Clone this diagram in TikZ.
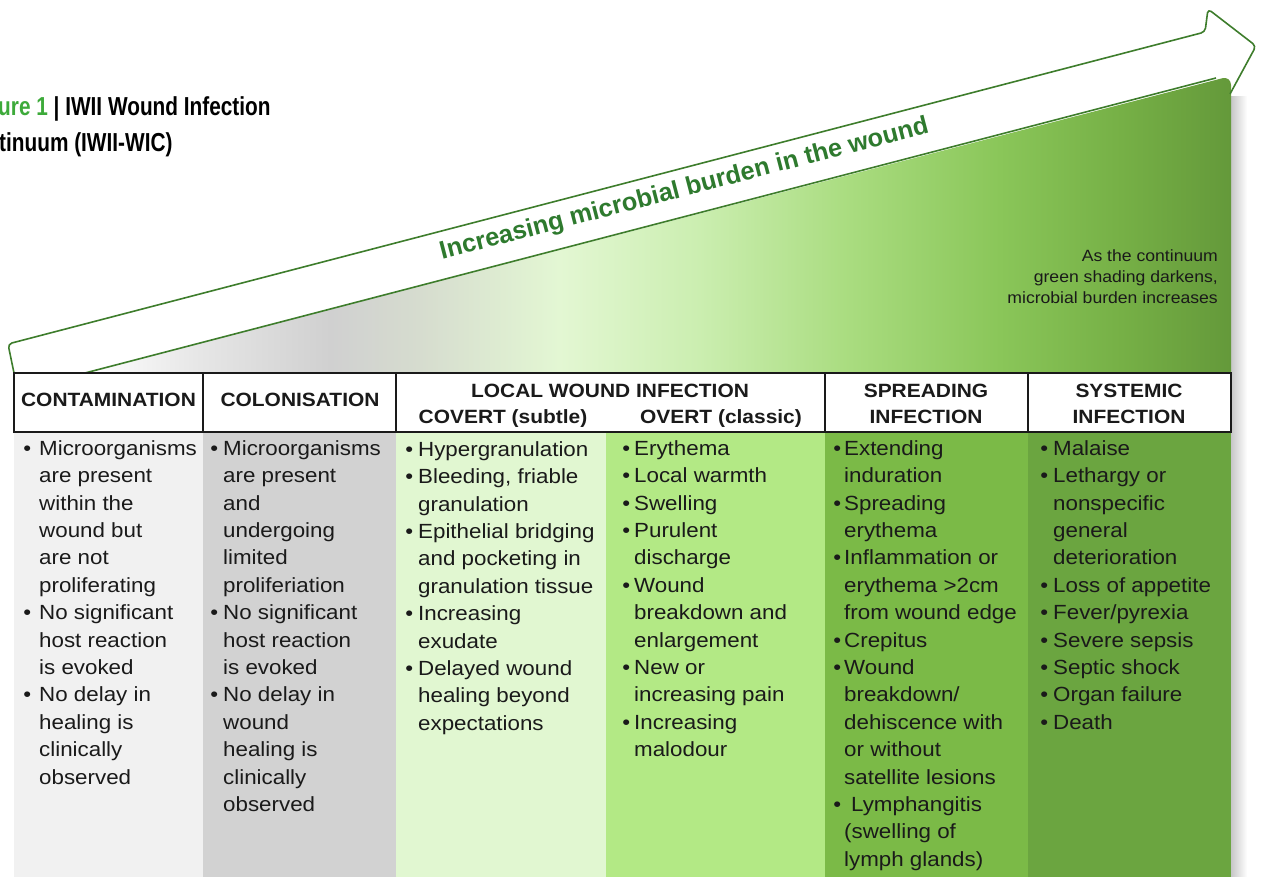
\documentclass[tikz,border=0pt]{standalone}
\usepackage{fontspec}
\setmainfont{Liberation Sans}
\newfontfamily\widefont[FakeStretch=1.09]{Liberation Sans}
\newfontfamily\smallwide[FakeStretch=1.08]{Liberation Sans}
\newfontfamily\condfont[FakeStretch=0.8]{Liberation Sans}
\definecolor{ink}{HTML}{1A1A1A}
\definecolor{cA}{HTML}{F1F1F1}
\definecolor{cB}{HTML}{D2D2D2}
\definecolor{cC}{HTML}{E1F7D1}
\definecolor{cD}{HTML}{B3E985}
\definecolor{cE}{HTML}{7BBA47}
\definecolor{cF}{HTML}{6BA540}
\definecolor{arrowgreen}{HTML}{3E7D2C}
\definecolor{textgreen}{HTML}{2E7A2E}
\definecolor{titlegreen}{HTML}{3DAA3A}
\definecolor{sgA}{HTML}{E6E6E6}
\definecolor{sgB}{HTML}{D0D0D0}
\definecolor{sgC}{HTML}{D6DCCF}
\definecolor{sgD}{HTML}{E3F7D3}
\definecolor{sgE}{HTML}{CBEEB0}
\definecolor{sgF}{HTML}{A9DC7F}
\definecolor{sgG}{HTML}{8AC659}
\definecolor{sgH}{HTML}{76B046}
\definecolor{sgI}{HTML}{64993A}
\pgfdeclarehorizontalshading{burden}{100bp}{color(0bp)=(white); color(25bp)=(white); color(30bp)=(sgA); color(35.7bp)=(sgB); color(39.6bp)=(sgC); color(45.7bp)=(sgD); color(51.8bp)=(sgE); color(58.4bp)=(sgF); color(64.9bp)=(sgG); color(70.2bp)=(sgH); color(75bp)=(sgI); color(100bp)=(sgI)}
\newcommand{\bitem}[1][5pt]{\llap{•\hspace{#1}}}
\newcommand{\firststrut}{\rule{0pt}{18pt}}
\tikzset{
  hdr/.style={font=\fontsize{19.2}{24}\selectfont\widefont\bfseries, text=ink, inner sep=0pt, anchor=base},
  body/.style={font=\fontsize{20.5}{27.4}\selectfont\widefont, text=ink, align=left, anchor=north west, inner sep=0pt},
  frame/.style={draw=ink, line width=2pt},
  outline/.style={draw=arrowgreen, line width=1.6pt, line join=round},
  titletext/.style={font=\fontsize{26}{36}\selectfont\condfont\bfseries, anchor=base west, inner sep=0pt}
}
\begin{document}
\begin{tikzpicture}[x=1pt,y=-1pt]
\useasboundingbox (0,0) rectangle (1262,877);
% drop shadow on the right
\shade[left color=black!22, right color=white] (1231,97) rectangle (1247,877);
% gradient triangle
\shade[shading=burden] (85,373) [rounded corners=9pt] -- (1231,76) [sharp corners] -- (1231,373) -- cycle;
% arrow outline
\draw[outline, rounded corners=4pt] (14,373) -- (8,344) -- (1205,32) -- (1208,9) -- (1256,46) -- (1230,94);
\draw[outline] (85,373) -- (1216,78);
\node[font=\fontsize{25.4}{30}\selectfont\bfseries, text=textgreen, rotate=14.6, anchor=base, inner sep=0pt] (burden) at (686,196) {Increasing microbial burden in the wound};
% note
\node[font=\fontsize{16.3}{21}\selectfont\smallwide, text=ink, align=right, anchor=north east, inner sep=0pt] (note) at (1218,246) {\rule{0pt}{15pt}As the continuum\\green shading darkens,\\microbial burden increases};
% title
\node[titletext] (title1) at (-2,116) {\textcolor{titlegreen}{ure 1} | IWII Wound Infection};
\node[titletext] (title2) at (-1,152) {tinuum (IWII-WIC)};
% body columns
\fill[cA] (14,432) rectangle (203,877);
\fill[cB] (203,432) rectangle (396,877);
\fill[cC] (396,432) rectangle (606,877);
\fill[cD] (606,432) rectangle (825,877);
\fill[cE] (825,432) rectangle (1028,877);
\fill[cF] (1028,432) rectangle (1231,877);
% header
\fill[white] (14,373) rectangle (1231,432);
\draw[frame] (14,373) rectangle (1231,432);
\draw[frame] (203,373) -- (203,432);
\draw[frame] (396,373) -- (396,432);
\draw[frame] (825,373) -- (825,432);
\draw[frame] (1028,373) -- (1028,432);
\node[hdr] (h1) at (108.5,407) {CONTAMINATION};
\node[hdr] (h2) at (300,407) {COLONISATION};
\node[hdr] (h3) at (610,398) {LOCAL WOUND INFECTION};
\node[hdr] (h3a) at (503,424) {COVERT (subtle)};
\node[hdr] (h3b) at (721,424) {OVERT (classic)};
\node[hdr] (h4a) at (926,398) {SPREADING};
\node[hdr] (h4b) at (926,424) {INFECTION};
\node[hdr] (h5a) at (1129,398) {SYSTEMIC};
\node[hdr] (h5b) at (1129,424) {INFECTION};
% body text
\node[body] (t1) at (39,437) {\firststrut\bitem[8pt]Microorganisms\\are present\\within the\\wound but\\are not\\proliferating\\\bitem[8pt]No significant\\host reaction\\is evoked\\\bitem[8pt]No delay in\\healing is\\clinically\\observed};
\node[body] (t2) at (223,437) {\firststrut\bitem Microorganisms\\are present\\and\\undergoing\\limited\\proliferiation\\\bitem No significant\\host reaction\\is evoked\\\bitem No delay in\\wound\\healing is\\clinically\\observed};
\node[body] (t3) at (418,438) {\firststrut\bitem Hypergranulation\\\bitem Bleeding, friable\\granulation\\\bitem Epithelial bridging\\and pocketing in\\granulation tissue\\\bitem Increasing\\exudate\\\bitem Delayed wound\\healing beyond\\expectations};
\node[body] (t4) at (634,437) {\firststrut\bitem[4pt]Erythema\\\bitem[4pt]Local warmth\\\bitem[4pt]Swelling\\\bitem[4pt]Purulent\\discharge\\\bitem[4pt]Wound\\breakdown and\\enlargement\\\bitem[4pt]New or\\increasing pain\\\bitem[4pt]Increasing\\malodour};
\node[body] (t5) at (844,437) {\firststrut\bitem[3pt]Extending\\induration\\\bitem[3pt]Spreading\\erythema\\\bitem[3pt]Inflammation or\\erythema >2cm\\from wound edge\\\bitem[3pt]Crepitus\\\bitem[3pt]Wound\\breakdown/\\dehiscence with\\or without\\satellite lesions\\\bitem[3pt]\hspace*{7pt}Lymphangitis\\(swelling of\\lymph glands)};
\node[body] (t6) at (1053,437) {\firststrut\bitem Malaise\\\bitem Lethargy or\\nonspecific\\general\\deterioration\\\bitem Loss of appetite\\\bitem Fever/pyrexia\\\bitem Severe sepsis\\\bitem Septic shock\\\bitem Organ failure\\\bitem Death};
\end{tikzpicture}
\end{document}
